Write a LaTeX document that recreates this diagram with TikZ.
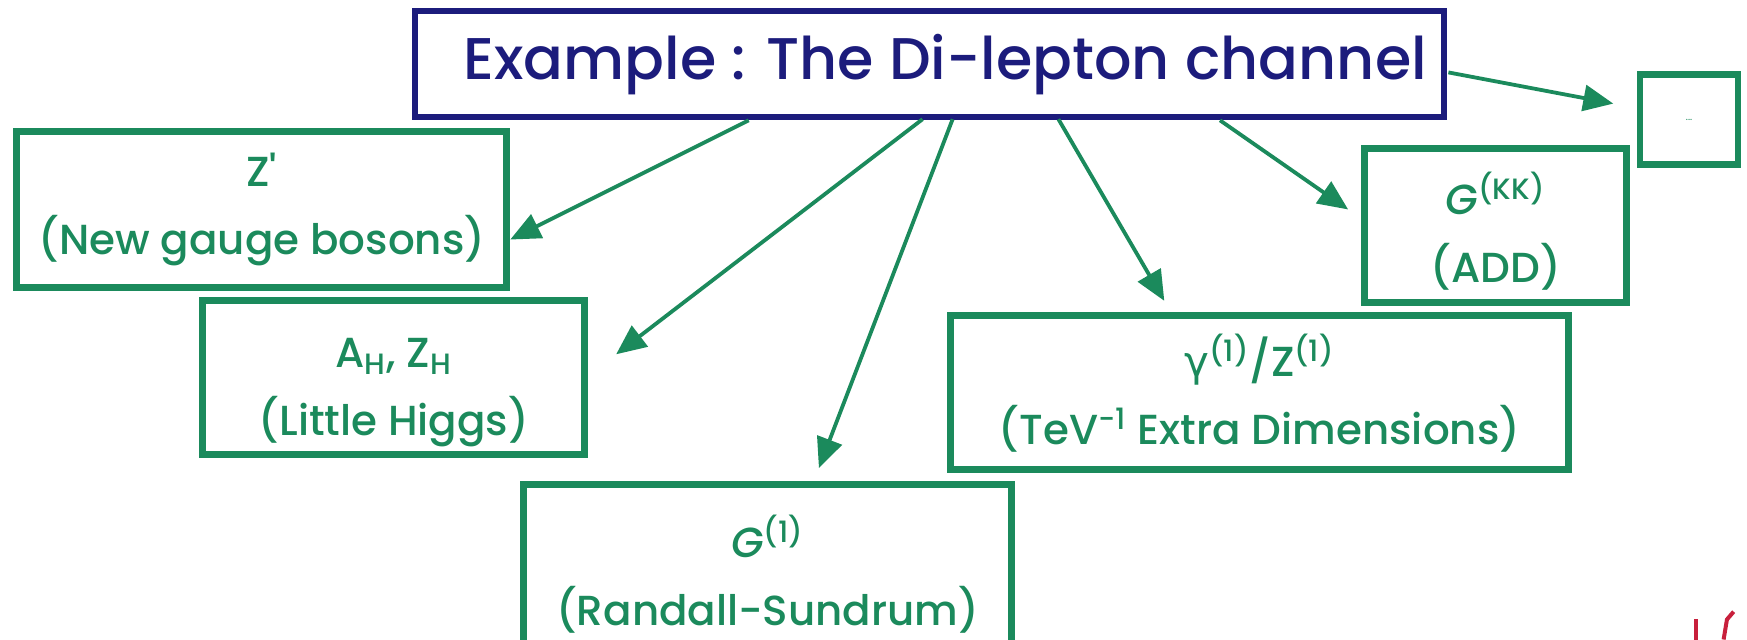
\documentclass[tikz,border=0pt]{standalone}
\usepackage{fontspec}
\setmainfont{Poppins}
\newfontfamily\medfont{Poppins Medium}
\newfontfamily\gfont{DejaVu Sans}
\usetikzlibrary{arrows.meta}
\definecolor{navy}{HTML}{1C1C7C}
\definecolor{dgreen}{HTML}{1B8A5C}
\definecolor{lhred}{HTML}{C8203C}
\tikzset{
  gbox/.style={draw=dgreen, line width=3.4pt, text=dgreen, align=center, inner sep=0pt,
     font=\fontsize{21}{34}\selectfont\medfont},
  arr/.style={draw=dgreen, line width=1.9pt, -{Triangle[length=15pt,width=13pt]}},
}
\begin{document}
\begin{tikzpicture}[x=0.5571pt,y=-0.5571pt]
\useasboundingbox (0,0) rectangle (1568,574);
\node[draw=navy, line width=3pt, text=navy, minimum width=514.5pt, minimum height=52.9pt,
  font=\fontsize{29.4}{32}\selectfont\medfont] (main) at (834,57.5) {\hspace*{16pt}Example : The Di-lepton channel};
\node[gbox, minimum width=245pt, minimum height=78pt] (zp) at (235,188) {Z'\\(New gauge bosons)};
\node[gbox, minimum width=191pt, minimum height=77pt] (lh) at (353.5,339) {\rule{0pt}{30pt}A\textsubscript{H}, Z\textsubscript{H}\\(Little Higgs)};
\node[gbox, minimum width=244pt, minimum height=90pt] (rs) at (689,515.5) {\textit{G}\textsuperscript{(1)}\\(Randall-Sundrum)};
\node[gbox, minimum width=309pt, minimum height=77pt] (tev) at (1130.5,352.5) {{\gfont γ}\textsuperscript{(1)}/Z\textsuperscript{(1)}\\(TeV\textsuperscript{-1} Extra Dimensions)};
\node[gbox, minimum width=131pt, minimum height=77pt] (add) at (1342.5,202.5) {\rule{0pt}{27pt}\textit{G}\textsuperscript{(KK)}\\(ADD)};
\node[gbox, minimum width=49pt, minimum height=45pt, font=\fontsize{5}{6}\selectfont] (dots) at (1516,107.5) {...};
\coordinate (s1) at (672,108);
\coordinate (s2) at (828,107);
\coordinate (s3) at (855,107);
\coordinate (s4) at (950,107);
\coordinate (s5) at (1095,108);
\coordinate (s6) at (1300,65);
\coordinate (t1) at (458,215);
\coordinate (t2) at (553,318);
\coordinate (t3) at (735,420);
\coordinate (t4) at (1045,270);
\coordinate (t5) at (1210,188);
\coordinate (t6) at (1448,93);
\draw[arr] (s1) -- (t1);
\draw[arr] (s2) -- (t2);
\draw[arr] (s3) -- (t3);
\draw[arr] (s4) -- (t4);
\draw[arr] (s5) -- (t5);
\draw[arr] (s6) -- (t6);
\draw[lhred, line width=2pt] (1522,556) -- (1522,574);
\draw[lhred, line width=2pt] (1547,574) -- (1550,556) -- (1556,549);
\end{tikzpicture}
\end{document}
